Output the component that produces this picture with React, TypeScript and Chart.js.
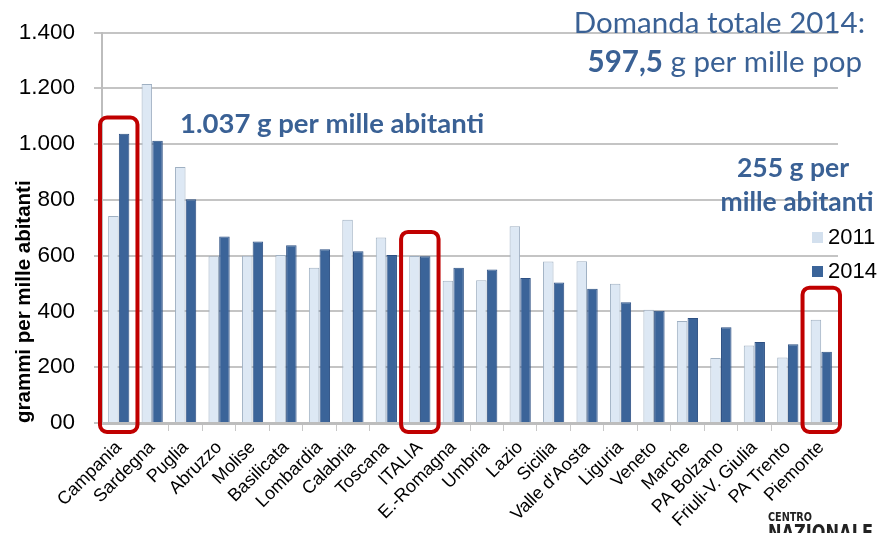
import React, { useEffect, useRef } from "react";
import { Chart, registerables } from "chart.js";

Chart.register(...registerables);

const categories = [
  "Campania", "Sardegna", "Puglia", "Abruzzo", "Molise", "Basilicata", "Lombardia",
  "Calabria", "Toscana", "ITALIA", "E.-Romagna", "Umbria", "Lazio", "Sicilia",
  "Valle d'Aosta", "Liguria", "Veneto", "Marche", "PA Bolzano", "Friuli-V. Giulia",
  "PA Trento", "Piemonte",
];
const values2011 = [742, 1215, 918, 598, 600, 602, 557, 729, 665, 599, 510, 512, 705, 579, 580, 499, 406, 366, 233, 278, 235, 370];
const values2014 = [1037, 1012, 802, 669, 651, 637, 623, 616, 602, 597.5, 557, 550, 520, 504, 481, 433, 402, 376, 343, 290, 282, 255];
const yTickValues = [0, 200, 400, 600, 800, 1000, 1200, 1400];
const yTickLabels = ["00", "200", "400", "600", "800", "1.000", "1.200", "1.400"];
const seriesNames = ["2011", "2014"];
const highlightLabels = ["Campania", "ITALIA", "Piemonte"];
const highlightTops = [1095, 685, 485];

const BLUE_TEXT = "#3a6195";
const LIGHT = "#dde8f4";
const DARK = "#3b6499";

function roundRect(ctx: CanvasRenderingContext2D, x: number, y: number, w: number, h: number, r: number) {
  ctx.beginPath();
  ctx.moveTo(x + r, y);
  ctx.lineTo(x + w - r, y);
  ctx.arcTo(x + w, y, x + w, y + r, r);
  ctx.lineTo(x + w, y + h - r);
  ctx.arcTo(x + w, y + h, x + w - r, y + h, r);
  ctx.lineTo(x + r, y + h);
  ctx.arcTo(x, y + h, x, y + h - r, r);
  ctx.lineTo(x, y + r);
  ctx.arcTo(x, y, x + r, y, r);
  ctx.closePath();
}

function fitText(ctx: CanvasRenderingContext2D, text: string, x: number, y: number, width: number) {
  const w = ctx.measureText(text).width;
  ctx.save();
  ctx.translate(x, y);
  ctx.scale(width / w, 1);
  ctx.fillText(text, 0, 0);
  ctx.restore();
}

const annotationPlugin = {
  id: "annotations",
  afterDraw(chart: any) {
    const ctx: CanvasRenderingContext2D = chart.ctx;
    const xs = chart.scales.x;
    const ys = chart.scales.y;
    const area = chart.chartArea;
    const catW = (area.right - area.left) / categories.length;

    ctx.save();
    // red highlight boxes
    ctx.strokeStyle = "#c00000";
    ctx.lineWidth = 4;
    highlightLabels.forEach((lab, i) => {
      const idx = categories.indexOf(lab);
      const cx = xs.getPixelForValue(idx);
      const top = ys.getPixelForValue(highlightTops[i]);
      const bottom = ys.getPixelForValue(0) + 9;
      roundRect(ctx, cx - catW * 0.56, top, catW * 1.12, bottom - top, 7);
      ctx.stroke();
    });

    // text annotations
    ctx.fillStyle = BLUE_TEXT;
    ctx.textBaseline = "alphabetic";
    ctx.textAlign = "left";
    ctx.font = "bold 27.5px Lato";
    ctx.fillText("1.037 g per mille abitanti", 180, 133);

    ctx.textAlign = "right";
    ctx.font = "29.5px Lato";
    ctx.fillText("Domanda totale 2014:", 865, 33);

    const boldPart = "597,5";
    const normPart = " g per mille pop";
    ctx.font = "29.5px Lato";
    const wN = ctx.measureText(normPart).width;
    ctx.font = "bold 29.5px Lato";
    const wB = ctx.measureText(boldPart).width;
    const start = 862 - wN - wB;
    ctx.textAlign = "left";
    ctx.fillText(boldPart, start, 72);
    ctx.font = "29.5px Lato";
    ctx.fillText(normPart, start + wB, 72);

    ctx.textAlign = "center";
    ctx.font = "bold 26.5px Lato";
    ctx.fillText("255 g per", 793, 177);
    ctx.fillText("mille abitanti", 797, 211);

    // legend
    ctx.textAlign = "left";
    ctx.font = "22px Arial, 'Liberation Sans'";
    ctx.fillStyle = "#d3e0ee";
    ctx.fillRect(812, 232, 11, 11);
    ctx.fillStyle = "#000";
    ctx.fillText(seriesNames[0], 828, 244);
    ctx.fillStyle = DARK;
    ctx.fillRect(812, 266, 11, 11);
    ctx.fillStyle = "#000";
    ctx.fillText(seriesNames[1], 828, 278);

    // logo text
    ctx.fillStyle = "#222";
    ctx.font = "bold 13px 'DejaVu Sans Condensed', 'DejaVu Sans', Arial";
    fitText(ctx, "CENTRO", 768, 521, 44);
    ctx.font = "bold 22px 'DejaVu Sans Condensed', 'DejaVu Sans', Arial";
    fitText(ctx, "NAZIONALE", 768, 540, 105);
    ctx.restore();
  },
};

export default function App() {
  const ref = useRef<HTMLCanvasElement | null>(null);

  useEffect(() => {
    if (!ref.current) return;
    const chart = new Chart(ref.current, {
      type: "bar",
      data: {
        labels: categories,
        datasets: [
          {
            label: seriesNames[0],
            data: values2011,
            backgroundColor: LIGHT,
            borderColor: "#9fb0c2",
            borderWidth: 1,
            barPercentage: 0.98,
            categoryPercentage: 0.64,
          },
          {
            label: seriesNames[1],
            data: values2014,
            backgroundColor: DARK,
            borderColor: "#2d5083",
            borderWidth: 1,
            barPercentage: 0.98,
            categoryPercentage: 0.64,
          },
        ],
      },
      options: {
        responsive: false,
        animation: false,
        devicePixelRatio: 1,
        layout: { padding: { top: 32, right: 44, left: 0, bottom: 0 } },
        plugins: {
          legend: { display: false },
          tooltip: { enabled: false },
          title: { display: false },
        },
        scales: {
          x: {
            grid: {
              display: true,
              drawOnChartArea: false,
              drawTicks: true,
              tickLength: 8,
              color: "#c8c8c8",
              lineWidth: 1,
            },
            border: { display: true, color: "#bdbdbd", width: 3 },
            ticks: {
              minRotation: 45,
              maxRotation: 45,
              autoSkip: false,
              padding: 6,
              color: "#000",
              font: { family: "Arial, 'Liberation Sans'", size: 18 },
            },
            afterFit(scale: any) {
              scale.height = 110;
            },
          },
          y: {
            min: 0,
            max: 1400,
            afterBuildTicks(scale: any) {
              scale.ticks = yTickValues.map((v) => ({ value: v }));
            },
            grid: {
              color: "#c4c4c4",
              lineWidth: 2,
              drawTicks: true,
              tickLength: 8,
            },
            border: { display: true, color: "#bdbdbd", width: 2 },
            ticks: {
              padding: 19,
              color: "#000",
              font: { family: "Arial, 'Liberation Sans'", size: 22.5 },
              callback: (value: any) => {
                const i = yTickValues.indexOf(Number(value));
                return i >= 0 ? yTickLabels[i] : "";
              },
            },
            title: {
              display: true,
              text: "grammi per mille abitanti",
              align: "start",
              color: "#000",
              font: { family: "Arial, 'Liberation Sans'", size: 20.5, weight: "bold" },
              padding: { top: 12, bottom: 0 },
            },
            afterFit(scale: any) {
              scale.width = 102;
            },
          },
        },
      },
      plugins: [annotationPlugin],
    } as any);
    return () => chart.destroy();
  }, []);

  return (
    <div style={{ position: "absolute", left: 0, top: 0, width: 882, height: 533, background: "#fff" }}>
      <canvas ref={ref} width={882} height={533} />
    </div>
  );
}
